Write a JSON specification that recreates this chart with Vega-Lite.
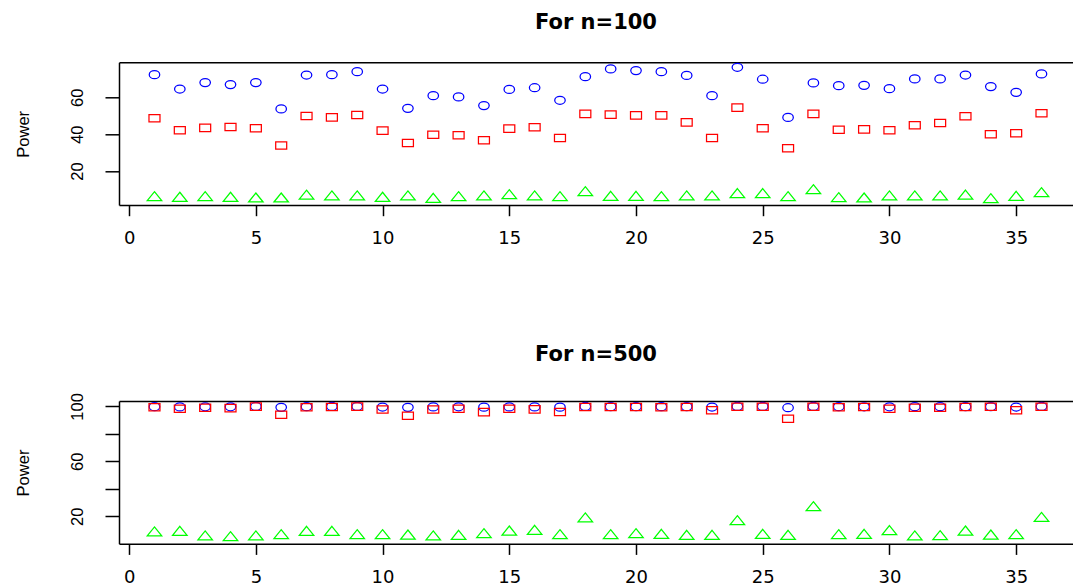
{
  "$schema": "https://vega.github.io/schema/vega-lite/v6.json",
  "autosize": {"type": "none"},
  "padding": {"left": 119, "top": 62.3, "right": 954, "bottom": 523.7},
  "background": "white",
  "config": {
    "view": {"stroke": null},
    "axis": {"grid": false, "domainColor": "black", "tickColor": "black", "labelColor": "black", "titleColor": "black", "domainWidth": 1.5, "tickWidth": 1.5, "labelFlush": false, "labelOverlap": false}
  },
  "datasets": {
    "n100": [
      {"i":1,"s":"T1","p":72.3},{"i":2,"s":"T1","p":64.5},{"i":3,"s":"T1","p":68.0},{"i":4,"s":"T1","p":66.9},{"i":5,"s":"T1","p":68.0},{"i":6,"s":"T1","p":53.7},
      {"i":7,"s":"T1","p":72.1},{"i":8,"s":"T1","p":72.3},{"i":9,"s":"T1","p":73.9},{"i":10,"s":"T1","p":64.5},{"i":11,"s":"T1","p":54.0},{"i":12,"s":"T1","p":60.9},
      {"i":13,"s":"T1","p":60.2},{"i":14,"s":"T1","p":55.5},{"i":15,"s":"T1","p":64.3},{"i":16,"s":"T1","p":65.2},{"i":17,"s":"T1","p":58.4},{"i":18,"s":"T1","p":71.2},
      {"i":19,"s":"T1","p":75.4},{"i":20,"s":"T1","p":74.5},{"i":21,"s":"T1","p":73.9},{"i":22,"s":"T1","p":71.9},{"i":23,"s":"T1","p":60.9},{"i":24,"s":"T1","p":76.3},
      {"i":25,"s":"T1","p":69.8},{"i":26,"s":"T1","p":49.1},{"i":27,"s":"T1","p":67.8},{"i":28,"s":"T1","p":66.3},{"i":29,"s":"T1","p":66.5},{"i":30,"s":"T1","p":64.7},
      {"i":31,"s":"T1","p":70.0},{"i":32,"s":"T1","p":70.0},{"i":33,"s":"T1","p":72.1},{"i":34,"s":"T1","p":65.8},{"i":35,"s":"T1","p":62.7},{"i":36,"s":"T1","p":72.7},
      {"i":1,"s":"T2","p":48.6},{"i":2,"s":"T2","p":42.1},{"i":3,"s":"T2","p":43.4},{"i":4,"s":"T2","p":43.9},{"i":5,"s":"T2","p":43.2},{"i":6,"s":"T2","p":33.8},
      {"i":7,"s":"T2","p":49.9},{"i":8,"s":"T2","p":49.1},{"i":9,"s":"T2","p":50.4},{"i":10,"s":"T2","p":41.9},{"i":11,"s":"T2","p":35.2},{"i":12,"s":"T2","p":39.7},
      {"i":13,"s":"T2","p":39.4},{"i":14,"s":"T2","p":36.7},{"i":15,"s":"T2","p":43.0},{"i":16,"s":"T2","p":43.7},{"i":17,"s":"T2","p":37.9},{"i":18,"s":"T2","p":51.0},
      {"i":19,"s":"T2","p":50.6},{"i":20,"s":"T2","p":50.2},{"i":21,"s":"T2","p":50.2},{"i":22,"s":"T2","p":46.4},{"i":23,"s":"T2","p":37.9},{"i":24,"s":"T2","p":54.4},
      {"i":25,"s":"T2","p":43.2},{"i":26,"s":"T2","p":32.3},{"i":27,"s":"T2","p":51.0},{"i":28,"s":"T2","p":42.4},{"i":29,"s":"T2","p":42.6},{"i":30,"s":"T2","p":42.1},
      {"i":31,"s":"T2","p":44.8},{"i":32,"s":"T2","p":46.1},{"i":33,"s":"T2","p":49.7},{"i":34,"s":"T2","p":39.9},{"i":35,"s":"T2","p":40.5},{"i":36,"s":"T2","p":51.3},
      {"i":1,"s":"T3","p":5.5},{"i":2,"s":"T3","p":5.2},{"i":3,"s":"T3","p":5.5},{"i":4,"s":"T3","p":5.2},{"i":5,"s":"T3","p":4.8},{"i":6,"s":"T3","p":4.8},
      {"i":7,"s":"T3","p":6.3},{"i":8,"s":"T3","p":5.9},{"i":9,"s":"T3","p":5.9},{"i":10,"s":"T3","p":5.2},{"i":11,"s":"T3","p":5.9},{"i":12,"s":"T3","p":4.6},
      {"i":13,"s":"T3","p":5.5},{"i":14,"s":"T3","p":5.9},{"i":15,"s":"T3","p":6.6},{"i":16,"s":"T3","p":5.9},{"i":17,"s":"T3","p":5.5},{"i":18,"s":"T3","p":8.2},
      {"i":19,"s":"T3","p":5.7},{"i":20,"s":"T3","p":5.7},{"i":21,"s":"T3","p":5.5},{"i":22,"s":"T3","p":5.9},{"i":23,"s":"T3","p":5.9},{"i":24,"s":"T3","p":7.2},
      {"i":25,"s":"T3","p":7.2},{"i":26,"s":"T3","p":5.5},{"i":27,"s":"T3","p":9.3},{"i":28,"s":"T3","p":5.0},{"i":29,"s":"T3","p":4.8},{"i":30,"s":"T3","p":5.9},
      {"i":31,"s":"T3","p":5.9},{"i":32,"s":"T3","p":5.9},{"i":33,"s":"T3","p":6.4},{"i":34,"s":"T3","p":4.4},{"i":35,"s":"T3","p":5.7},{"i":36,"s":"T3","p":7.7}
    ],
    "n500": [
      {"i":1,"s":"T1","p":99.8},{"i":2,"s":"T1","p":99.6},{"i":3,"s":"T1","p":99.7},{"i":4,"s":"T1","p":99.7},{"i":5,"s":"T1","p":99.9},{"i":6,"s":"T1","p":99.3},
      {"i":7,"s":"T1","p":99.8},{"i":8,"s":"T1","p":99.9},{"i":9,"s":"T1","p":99.9},{"i":10,"s":"T1","p":99.5},{"i":11,"s":"T1","p":99.3},{"i":12,"s":"T1","p":99.6},
      {"i":13,"s":"T1","p":99.7},{"i":14,"s":"T1","p":99.4},{"i":15,"s":"T1","p":99.6},{"i":16,"s":"T1","p":99.6},{"i":17,"s":"T1","p":99.4},{"i":18,"s":"T1","p":99.9},
      {"i":19,"s":"T1","p":99.8},{"i":20,"s":"T1","p":99.8},{"i":21,"s":"T1","p":99.8},{"i":22,"s":"T1","p":99.8},{"i":23,"s":"T1","p":99.5},{"i":24,"s":"T1","p":99.9},
      {"i":25,"s":"T1","p":99.9},{"i":26,"s":"T1","p":99.0},{"i":27,"s":"T1","p":99.9},{"i":28,"s":"T1","p":99.8},{"i":29,"s":"T1","p":99.7},{"i":30,"s":"T1","p":99.7},
      {"i":31,"s":"T1","p":99.8},{"i":32,"s":"T1","p":99.8},{"i":33,"s":"T1","p":99.8},{"i":34,"s":"T1","p":99.8},{"i":35,"s":"T1","p":99.5},{"i":36,"s":"T1","p":99.9},
      {"i":1,"s":"T2","p":99.3},{"i":2,"s":"T2","p":98.3},{"i":3,"s":"T2","p":99.0},{"i":4,"s":"T2","p":98.7},{"i":5,"s":"T2","p":99.8},{"i":6,"s":"T2","p":93.9},
      {"i":7,"s":"T2","p":99.4},{"i":8,"s":"T2","p":99.6},{"i":9,"s":"T2","p":99.8},{"i":10,"s":"T2","p":97.7},{"i":11,"s":"T2","p":93.2},{"i":12,"s":"T2","p":97.7},
      {"i":13,"s":"T2","p":98.3},{"i":14,"s":"T2","p":95.8},{"i":15,"s":"T2","p":98.2},{"i":16,"s":"T2","p":97.8},{"i":17,"s":"T2","p":95.9},{"i":18,"s":"T2","p":99.6},
      {"i":19,"s":"T2","p":99.5},{"i":20,"s":"T2","p":99.5},{"i":21,"s":"T2","p":99.4},{"i":22,"s":"T2","p":99.5},{"i":23,"s":"T2","p":97.1},{"i":24,"s":"T2","p":99.7},
      {"i":25,"s":"T2","p":99.7},{"i":26,"s":"T2","p":91.0},{"i":27,"s":"T2","p":99.7},{"i":28,"s":"T2","p":99.3},{"i":29,"s":"T2","p":99.5},{"i":30,"s":"T2","p":98.3},
      {"i":31,"s":"T2","p":99.0},{"i":32,"s":"T2","p":99.0},{"i":33,"s":"T2","p":99.6},{"i":34,"s":"T2","p":99.7},{"i":35,"s":"T2","p":97.1},{"i":36,"s":"T2","p":99.7},
      {"i":1,"s":"T3","p":7.9},{"i":2,"s":"T3","p":8.4},{"i":3,"s":"T3","p":5.0},{"i":4,"s":"T3","p":4.5},{"i":5,"s":"T3","p":5.0},{"i":6,"s":"T3","p":5.9},
      {"i":7,"s":"T3","p":8.4},{"i":8,"s":"T3","p":8.4},{"i":9,"s":"T3","p":5.9},{"i":10,"s":"T3","p":5.9},{"i":11,"s":"T3","p":5.7},{"i":12,"s":"T3","p":5.0},
      {"i":13,"s":"T3","p":5.5},{"i":14,"s":"T3","p":6.7},{"i":15,"s":"T3","p":8.6},{"i":16,"s":"T3","p":9.1},{"i":17,"s":"T3","p":5.9},{"i":18,"s":"T3","p":18.1},
      {"i":19,"s":"T3","p":5.9},{"i":20,"s":"T3","p":6.7},{"i":21,"s":"T3","p":6.2},{"i":22,"s":"T3","p":5.5},{"i":23,"s":"T3","p":5.5},{"i":24,"s":"T3","p":16.1},
      {"i":25,"s":"T3","p":6.2},{"i":26,"s":"T3","p":5.5},{"i":27,"s":"T3","p":26.3},{"i":28,"s":"T3","p":5.9},{"i":29,"s":"T3","p":6.2},{"i":30,"s":"T3","p":8.9},
      {"i":31,"s":"T3","p":5.0},{"i":32,"s":"T3","p":5.2},{"i":33,"s":"T3","p":8.6},{"i":34,"s":"T3","p":5.7},{"i":35,"s":"T3","p":5.9},{"i":36,"s":"T3","p":18.5}
    ]
  },
  "bounds": "flush",
  "spacing": 195.7,
  "vconcat": [
    {
      "width": 954,
      "height": 142.7,
      "data": {"name": "n100"},
      "title": {"text": "For n=100", "font": "DejaVu Sans", "fontSize": 21, "fontWeight": "bold", "color": "black", "anchor": "middle", "frame": "group", "baseline": "alphabetic", "offset": 11}, 
      "layer": [
        {
          "mark": {"type": "point", "filled": false, "strokeWidth": 1.25, "size": 100, "opacity": 1},
          "encoding": {
            "x": {"field": "i", "type": "quantitative", "scale": {"domain": [-0.4, 37.243], "nice": false, "zero": false},
              "axis": {"orient": "bottom", "values": [0, 5, 10, 15, 20, 25, 30, 35], "title": null, "tickSize": 10.7, "labelFont": "DejaVu Sans", "labelFontSize": 18, "labelBaseline": "alphabetic", "labelPadding": 28, "labelAlign": "center"}},
            "y": {"field": "p", "type": "quantitative", "scale": {"domain": [1.54, 79.0], "nice": false, "zero": false},
              "axis": {"values": [20, 40, 60], "title": "Power", "tickSize": 14, "labelAngle": -90, "labelAlign": "center", "labelBaseline": "alphabetic", "labelPadding": 23, "labelFont": "Liberation Sans", "labelFontSize": 16.5, "titleFont": "Liberation Sans", "titleFontSize": 16.5, "titleFontWeight": "normal", "titleAngle": -90, "titleAlign": "center", "titleBaseline": "alphabetic", "titleX": -90.7, "titleY": 71.5}},
            "shape": {"field": "s", "type": "nominal", "legend": null, "scale": {"domain": ["T1", "T2", "T3"], "range": [
              "M1.05,0C1.05,0.442 0.58,0.8 0,0.8C-0.58,0.8 -1.05,0.442 -1.05,0C-1.05,-0.442 -0.58,-0.8 0,-0.8C0.58,-0.8 1.05,-0.442 1.05,0Z",
              "M-1.1,-0.73H1.1V0.73H-1.1Z",
              "M0,-1.2L1.45,0.6L-1.45,0.6Z"]}},
            "color": {"field": "s", "type": "nominal", "legend": null, "scale": {"domain": ["T1", "T2", "T3"], "range": ["#0000FF", "#FF0000", "#00FF00"]}}
          }
        },
        {
          "mark": {"type": "point", "opacity": 0},
          "encoding": {
            "x": {"field": "i", "type": "quantitative", "axis": {"orient": "top", "ticks": false, "labels": false, "domain": true, "title": null}}
          }
        }
      ],
      "resolve": {"axis": {"x": "independent"}}
    },
    {
      "width": 954,
      "height": 142.7,
      "data": {"name": "n500"},
      "title": {"text": "For n=500", "font": "DejaVu Sans", "fontSize": 21, "fontWeight": "bold", "color": "black", "anchor": "middle", "frame": "group", "baseline": "alphabetic", "offset": 11},
      "layer": [
        {
          "mark": {"type": "point", "filled": false, "strokeWidth": 1.25, "size": 100, "opacity": 1},
          "encoding": {
            "x": {"field": "i", "type": "quantitative", "scale": {"domain": [-0.4, 37.243], "nice": false, "zero": false},
              "axis": {"orient": "bottom", "values": [0, 5, 10, 15, 20, 25, 30, 35], "title": null, "tickSize": 10.7, "labelFont": "DejaVu Sans", "labelFontSize": 18, "labelBaseline": "alphabetic", "labelPadding": 28, "labelAlign": "center"}},
            "y": {"field": "p", "type": "quantitative", "scale": {"domain": [0.1, 103.9], "nice": false, "zero": false},
              "axis": {"values": [20, 40, 60, 80, 100], "labelExpr": "datum.value == 40 || datum.value == 80 ? '' : datum.label", "title": "Power", "tickSize": 14, "labelAngle": -90, "labelAlign": "center", "labelBaseline": "alphabetic", "labelPadding": 23, "labelFont": "Liberation Sans", "labelFontSize": 16.5, "titleFont": "Liberation Sans", "titleFontSize": 16.5, "titleFontWeight": "normal", "titleAngle": -90, "titleAlign": "center", "titleBaseline": "alphabetic", "titleX": -90.7, "titleY": 71.5}},
            "shape": {"field": "s", "type": "nominal", "legend": null, "scale": {"domain": ["T1", "T2", "T3"], "range": [
              "M1.05,0C1.05,0.442 0.58,0.8 0,0.8C-0.58,0.8 -1.05,0.442 -1.05,0C-1.05,-0.442 -0.58,-0.8 0,-0.8C0.58,-0.8 1.05,-0.442 1.05,0Z",
              "M-1.1,-0.73H1.1V0.73H-1.1Z",
              "M0,-1.2L1.45,0.6L-1.45,0.6Z"]}},
            "color": {"field": "s", "type": "nominal", "legend": null, "scale": {"domain": ["T1", "T2", "T3"], "range": ["#0000FF", "#FF0000", "#00FF00"]}}
          }
        },
        {
          "mark": {"type": "point", "opacity": 0},
          "encoding": {
            "x": {"field": "i", "type": "quantitative", "axis": {"orient": "top", "ticks": false, "labels": false, "domain": true, "title": null}}
          }
        }
      ],
      "resolve": {"axis": {"x": "independent"}}
    }
  ]
}
